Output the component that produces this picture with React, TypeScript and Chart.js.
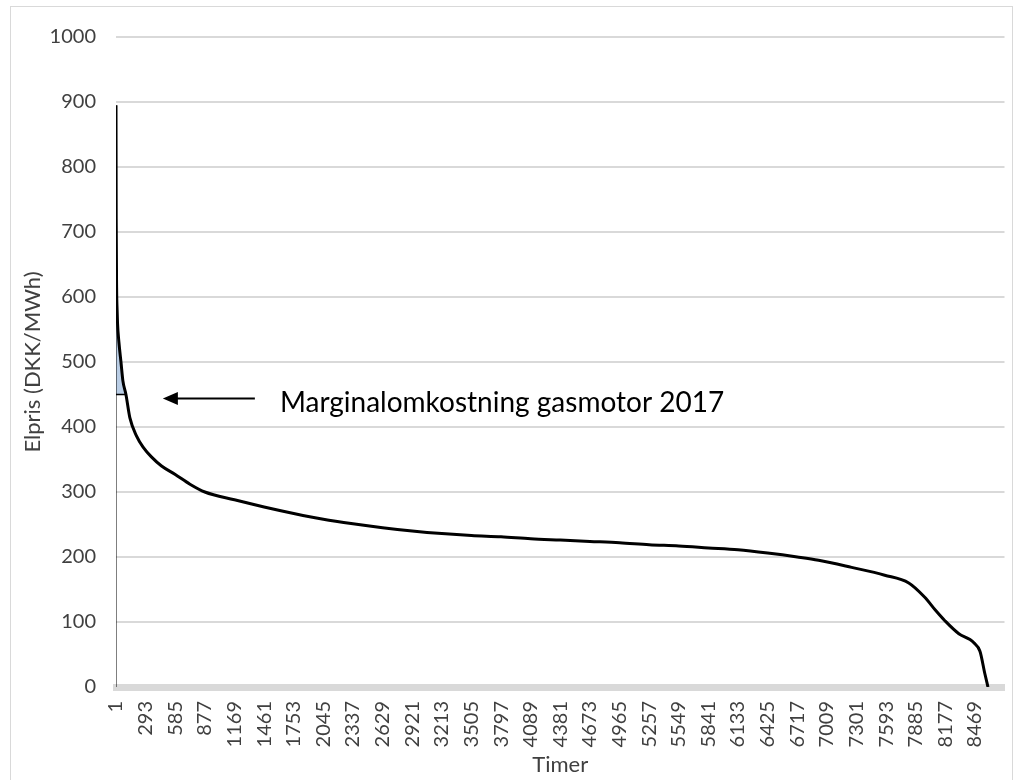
import React, { useEffect, useRef } from "react";
import { Chart, registerables } from "chart.js";

Chart.register(...registerables);

// Price duration curve (sorted hourly prices)
const hours = [
  1, 3, 7, 12, 16, 30, 50, 69, 99, 138, 204, 268, 350, 450, 585, 730, 877,
  1169, 1461, 1753, 2045, 2337, 2629, 2921, 3213, 3505, 3797, 4089, 4381,
  4673, 4965, 5257, 5549, 5841, 6133, 6425, 6717, 6927, 7253, 7579, 7816,
  7974, 8080, 8172, 8310, 8420, 8458, 8518, 8567, 8597,
];
const prices = [
  895, 720, 615, 580, 560, 530, 500, 471, 450, 414, 386, 369, 354, 340, 327,
  312, 300, 288, 277, 267, 258, 251, 245, 240, 236, 233, 231, 228, 226, 224,
  222, 219, 217, 214, 211, 206, 200, 195, 184, 172, 160, 138, 118, 102, 82,
  73, 68, 55, 20, 0,
];

const xTickLabels = [
  1, 293, 585, 877, 1169, 1461, 1753, 2045, 2337, 2629, 2921, 3213, 3505,
  3797, 4089, 4381, 4673, 4965, 5257, 5549, 5841, 6133, 6425, 6717, 7009,
  7301, 7593, 7885, 8177, 8469,
];
const yTickLabels = [0, 100, 200, 300, 400, 500, 600, 700, 800, 900, 1000];

const totalHours = 8760;
const marginalCost = 450;
const annotationText = "Marginalomkostning gasmotor 2017";
const xTitle = "Timer";
const yTitle = "Elpris (DKK/MWh)";

// annotation placement (in data units)
const arrowValue = 444;
const arrowTailHour = 1370;
const arrowHeadHour = 463;
const textHour = 1617;

const FONT = "Lato, 'Open Sans', sans-serif";

const framePlugin = {
  id: "frame",
  beforeDraw(chart: any) {
    const { ctx, width, height } = chart;
    ctx.save();
    ctx.fillStyle = "#ffffff";
    ctx.fillRect(0, 0, width, height);
    ctx.strokeStyle = "#d9d9d9";
    ctx.lineWidth = 1;
    ctx.strokeRect(10.5, 6.5, 1002, height + 20);
    ctx.restore();
  },
};

const annotationPlugin = {
  id: "annot",
  afterDatasetsDraw(chart: any) {
    const { ctx } = chart;
    const x = chart.scales.x;
    const y = chart.scales.y;
    const yp = Math.round(y.getPixelForValue(arrowValue)) + 0.5;
    const xt = x.getPixelForValue(arrowTailHour);
    const xh = x.getPixelForValue(arrowHeadHour);
    ctx.save();
    ctx.strokeStyle = "#000";
    ctx.lineWidth = 2;
    ctx.beginPath();
    ctx.moveTo(xt, yp);
    ctx.lineTo(xh + 12, yp);
    ctx.stroke();
    ctx.fillStyle = "#000";
    ctx.beginPath();
    ctx.moveTo(xh, yp);
    ctx.lineTo(xh + 15, yp - 6.5);
    ctx.lineTo(xh + 15, yp + 6.5);
    ctx.closePath();
    ctx.fill();
    ctx.font = `28px ${FONT}`;
    ctx.textBaseline = "alphabetic";
    ctx.textAlign = "left";
    ctx.fillText(annotationText, x.getPixelForValue(textHour), yp + 13);
    ctx.restore();
  },
};

export default function App() {
  const ref = useRef<HTMLCanvasElement | null>(null);

  useEffect(() => {
    if (!ref.current) return;
    const curve = hours.map((h, i) => ({ x: h, y: prices[i] }));
    const aboveCost = curve.filter((p) => p.y >= marginalCost);
    const lastAbove = aboveCost[aboveCost.length - 1];

    const chart = new Chart(ref.current, {
      type: "line",
      data: {
        datasets: [
          {
            label: "Elpris",
            data: curve,
            borderColor: "#000000",
            borderWidth: 3,
            pointRadius: 0,
            fill: false,
            cubicInterpolationMode: "monotone",
          },
          {
            label: "Marginalomkostning",
            data: [
              { x: hours[0], y: marginalCost },
              { x: lastAbove.x, y: marginalCost },
            ],
            borderColor: "#000000",
            borderWidth: 1.5,
            pointRadius: 0,
            fill: false,
          },
          {
            label: "Start",
            data: [
              { x: hours[0], y: 0 },
              { x: hours[0], y: prices[0] },
            ],
            borderColor: "#000000",
            borderWidth: 1,
            pointRadius: 0,
            fill: false,
          },
          {
            label: "Merindtjening",
            data: aboveCost,
            borderColor: "rgba(0,0,0,0)",
            borderWidth: 0,
            pointRadius: 0,
            backgroundColor: "#b9cde5",
            fill: { value: marginalCost },
            cubicInterpolationMode: "monotone",
          },
        ],
      },
      options: {
        responsive: false,
        animation: false,
        events: [],
        layout: { padding: { left: 12, top: 37, right: 24.5, bottom: 0 } },
        plugins: {
          legend: { display: false },
          tooltip: { enabled: false },
        },
        scales: {
          x: {
            type: "linear",
            min: 1,
            max: totalHours,
            afterBuildTicks: (scale: any) => {
              scale.ticks = xTickLabels.map((v) => ({ value: v }));
            },
            afterFit: (scale: any) => {
              scale.height = 93;
            },
            ticks: {
              autoSkip: false,
              minRotation: 90,
              maxRotation: 90,
              padding: 14,
              color: "#404040",
              font: { family: FONT, size: 20 },
              callback: (v: any) => String(v),
            },
            grid: { display: false, drawTicks: false },
            border: { display: true, color: "#d9d9d9", width: 7 },
            title: {
              display: true,
              text: xTitle,
              color: "#404040",
              font: { family: FONT, size: 22 },
              padding: { top: 0, bottom: 2 },
            },
          },
          y: {
            type: "linear",
            min: 0,
            max: 1000,
            afterBuildTicks: (scale: any) => {
              scale.ticks = yTickLabels.map((v) => ({ value: v }));
            },
            afterFit: (scale: any) => {
              scale.width = 104;
            },
            ticks: {
              padding: 20,
              color: "#404040",
              font: { family: FONT, size: 20 },
              callback: (v: any) => String(v),
            },
            grid: {
              color: "#d9d9d9",
              lineWidth: 2,
              drawTicks: false,
            },
            border: { display: false },
            title: {
              display: true,
              text: yTitle,
              color: "#404040",
              font: { family: FONT, size: 22 },
              padding: { top: 8, bottom: 0 },
            },
          },
        },
      },
      plugins: [framePlugin, annotationPlugin],
    });
    return () => chart.destroy();
  }, []);

  return (
    <div
      style={{
        position: "fixed",
        left: 0,
        top: 0,
        width: 1029,
        height: 780,
        background: "#fff",
      }}
    >
      <canvas ref={ref} width={1029} height={780} />
    </div>
  );
}
